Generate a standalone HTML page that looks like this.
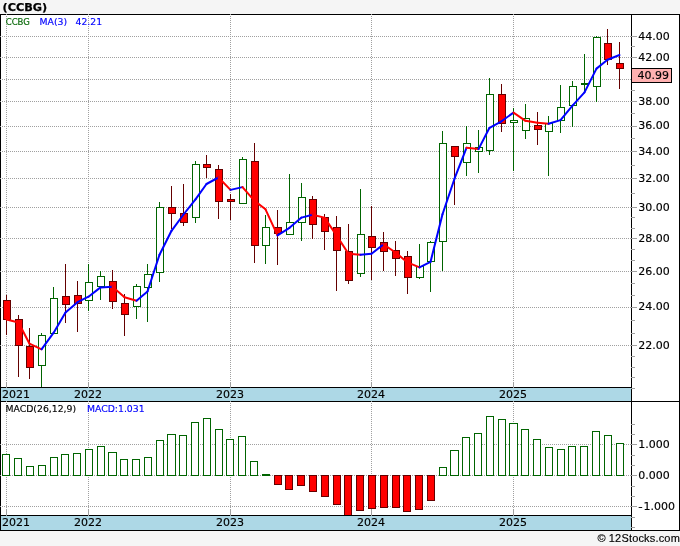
<!DOCTYPE html>
<html lang="en"><head><meta charset="utf-8"><title>(CCBG)</title>
<style>
html,body{margin:0;padding:0;background:#f5f5f5;}
body{width:680px;height:546px;overflow:hidden;}
svg{display:block;}
</style></head><body>
<svg width="680" height="546" viewBox="0 0 680 546">
<rect x="0" y="14" width="680" height="517" fill="#ffffff"/>
<rect x="1" y="388" width="630" height="13" fill="#add8e6"/>
<rect x="1" y="516" width="630" height="14" fill="#add8e6"/>
<g fill="#000000" shape-rendering="crispEdges"><rect x="0" y="14" width="680" height="1"/><rect x="0" y="14" width="1" height="517"/><rect x="679" y="14" width="1" height="517"/><rect x="631" y="14" width="1" height="517"/><rect x="0" y="387" width="632" height="1"/><rect x="0" y="401" width="680" height="1"/><rect x="0" y="515" width="632" height="1"/><rect x="0" y="530" width="680" height="1"/></g>
<g stroke="#a0a0a0" stroke-width="1" stroke-dasharray="1 1" shape-rendering="crispEdges"><line x1="0" y1="36.5" x2="631" y2="36.5"/><line x1="0" y1="57.5" x2="631" y2="57.5"/><line x1="0" y1="79.5" x2="631" y2="79.5"/><line x1="0" y1="101.5" x2="631" y2="101.5"/><line x1="0" y1="126.5" x2="631" y2="126.5"/><line x1="0" y1="151.5" x2="631" y2="151.5"/><line x1="0" y1="178.5" x2="631" y2="178.5"/><line x1="0" y1="207.5" x2="631" y2="207.5"/><line x1="0" y1="238.5" x2="631" y2="238.5"/><line x1="0" y1="271.5" x2="631" y2="271.5"/><line x1="0" y1="307.5" x2="631" y2="307.5"/><line x1="0" y1="345.5" x2="631" y2="345.5"/><line x1="6.5" y1="14" x2="6.5" y2="387"/><line x1="6.5" y1="401" x2="6.5" y2="515"/><line x1="88.5" y1="14" x2="88.5" y2="387"/><line x1="88.5" y1="401" x2="88.5" y2="515"/><line x1="230.5" y1="14" x2="230.5" y2="387"/><line x1="230.5" y1="401" x2="230.5" y2="515"/><line x1="371.5" y1="14" x2="371.5" y2="387"/><line x1="371.5" y1="401" x2="371.5" y2="515"/><line x1="513.5" y1="14" x2="513.5" y2="387"/><line x1="513.5" y1="401" x2="513.5" y2="515"/><line x1="0" y1="444.5" x2="631" y2="444.5"/><line x1="0" y1="475.5" x2="631" y2="475.5"/><line x1="0" y1="506.5" x2="631" y2="506.5"/></g>
<g shape-rendering="crispEdges"><rect x="6" y="295" width="1" height="40" fill="#640000"/><rect x="3.5" y="300.5" width="7" height="19" fill="#ff0000" stroke="#640000" stroke-width="1"/><rect x="18" y="315" width="1" height="62" fill="#640000"/><rect x="15.5" y="319.5" width="7" height="26" fill="#ff0000" stroke="#640000" stroke-width="1"/><rect x="29" y="328" width="1" height="51" fill="#640000"/><rect x="26.5" y="346.5" width="7" height="21" fill="#ff0000" stroke="#640000" stroke-width="1"/><rect x="41" y="333" width="1" height="54" fill="#006400"/><rect x="38.5" y="335.5" width="7" height="30" fill="#ffffff" stroke="#006400" stroke-width="1"/><rect x="53" y="287" width="1" height="47" fill="#006400"/><rect x="50.5" y="298.5" width="7" height="35" fill="#ffffff" stroke="#006400" stroke-width="1"/><rect x="65" y="264" width="1" height="59" fill="#640000"/><rect x="62.5" y="296.5" width="7" height="8" fill="#ff0000" stroke="#640000" stroke-width="1"/><rect x="77" y="281" width="1" height="51" fill="#640000"/><rect x="74.5" y="295.5" width="7" height="8" fill="#ff0000" stroke="#640000" stroke-width="1"/><rect x="88" y="264" width="1" height="47" fill="#006400"/><rect x="85.5" y="282.5" width="7" height="18" fill="#ffffff" stroke="#006400" stroke-width="1"/><rect x="100" y="271" width="1" height="29" fill="#006400"/><rect x="97.5" y="276.5" width="7" height="10" fill="#ffffff" stroke="#006400" stroke-width="1"/><rect x="112" y="270" width="1" height="39" fill="#640000"/><rect x="109.5" y="281.5" width="7" height="20" fill="#ff0000" stroke="#640000" stroke-width="1"/><rect x="124" y="294" width="1" height="42" fill="#640000"/><rect x="121.5" y="303.5" width="7" height="11" fill="#ff0000" stroke="#640000" stroke-width="1"/><rect x="136" y="284" width="1" height="35" fill="#006400"/><rect x="133.5" y="286.5" width="7" height="20" fill="#ffffff" stroke="#006400" stroke-width="1"/><rect x="147" y="264" width="1" height="58" fill="#006400"/><rect x="144.5" y="274.5" width="7" height="13" fill="#ffffff" stroke="#006400" stroke-width="1"/><rect x="159" y="202" width="1" height="80" fill="#006400"/><rect x="156.5" y="207.5" width="7" height="65" fill="#ffffff" stroke="#006400" stroke-width="1"/><rect x="171" y="186" width="1" height="43" fill="#640000"/><rect x="168.5" y="207.5" width="7" height="6" fill="#ff0000" stroke="#640000" stroke-width="1"/><rect x="183" y="184" width="1" height="42" fill="#640000"/><rect x="180.5" y="213.5" width="7" height="9" fill="#ff0000" stroke="#640000" stroke-width="1"/><rect x="195" y="161" width="1" height="62" fill="#006400"/><rect x="192.5" y="164.5" width="7" height="53" fill="#ffffff" stroke="#006400" stroke-width="1"/><rect x="206" y="155" width="1" height="23" fill="#640000"/><rect x="203.5" y="164.5" width="7" height="3" fill="#ff0000" stroke="#640000" stroke-width="1"/><rect x="218" y="165" width="1" height="54" fill="#640000"/><rect x="215.5" y="169.5" width="7" height="32" fill="#ff0000" stroke="#640000" stroke-width="1"/><rect x="230" y="194" width="1" height="26" fill="#640000"/><rect x="227.5" y="199.5" width="7" height="2" fill="#ff0000" stroke="#640000" stroke-width="1"/><rect x="242" y="157" width="1" height="47" fill="#006400"/><rect x="239.5" y="159.5" width="7" height="44" fill="#ffffff" stroke="#006400" stroke-width="1"/><rect x="254" y="143" width="1" height="120" fill="#640000"/><rect x="251.5" y="161.5" width="7" height="84" fill="#ff0000" stroke="#640000" stroke-width="1"/><rect x="265" y="215" width="1" height="49" fill="#006400"/><rect x="262.5" y="227.5" width="7" height="18" fill="#ffffff" stroke="#006400" stroke-width="1"/><rect x="277" y="210" width="1" height="55" fill="#640000"/><rect x="274.5" y="227.5" width="7" height="6" fill="#ff0000" stroke="#640000" stroke-width="1"/><rect x="289" y="174" width="1" height="61" fill="#006400"/><rect x="286.5" y="222.5" width="7" height="12" fill="#ffffff" stroke="#006400" stroke-width="1"/><rect x="301" y="183" width="1" height="58" fill="#006400"/><rect x="298.5" y="197.5" width="7" height="25" fill="#ffffff" stroke="#006400" stroke-width="1"/><rect x="312" y="196" width="1" height="43" fill="#640000"/><rect x="309.5" y="199.5" width="7" height="25" fill="#ff0000" stroke="#640000" stroke-width="1"/><rect x="324" y="214" width="1" height="36" fill="#640000"/><rect x="321.5" y="217.5" width="7" height="14" fill="#ff0000" stroke="#640000" stroke-width="1"/><rect x="336" y="216" width="1" height="75" fill="#640000"/><rect x="333.5" y="227.5" width="7" height="23" fill="#ff0000" stroke="#640000" stroke-width="1"/><rect x="348" y="224" width="1" height="60" fill="#640000"/><rect x="345.5" y="251.5" width="7" height="29" fill="#ff0000" stroke="#640000" stroke-width="1"/><rect x="360" y="189" width="1" height="88" fill="#006400"/><rect x="357.5" y="234.5" width="7" height="39" fill="#ffffff" stroke="#006400" stroke-width="1"/><rect x="371" y="206" width="1" height="74" fill="#640000"/><rect x="368.5" y="236.5" width="7" height="11" fill="#ff0000" stroke="#640000" stroke-width="1"/><rect x="383" y="232" width="1" height="39" fill="#640000"/><rect x="380.5" y="242.5" width="7" height="9" fill="#ff0000" stroke="#640000" stroke-width="1"/><rect x="395" y="241" width="1" height="35" fill="#640000"/><rect x="392.5" y="250.5" width="7" height="8" fill="#ff0000" stroke="#640000" stroke-width="1"/><rect x="407" y="251" width="1" height="43" fill="#640000"/><rect x="404.5" y="256.5" width="7" height="21" fill="#ff0000" stroke="#640000" stroke-width="1"/><rect x="419" y="244" width="1" height="35" fill="#006400"/><rect x="416.5" y="266.5" width="7" height="11" fill="#ffffff" stroke="#006400" stroke-width="1"/><rect x="430" y="241" width="1" height="51" fill="#006400"/><rect x="427.5" y="242.5" width="7" height="19" fill="#ffffff" stroke="#006400" stroke-width="1"/><rect x="442" y="131" width="1" height="140" fill="#006400"/><rect x="439.5" y="143.5" width="7" height="98" fill="#ffffff" stroke="#006400" stroke-width="1"/><rect x="454" y="146" width="1" height="59" fill="#640000"/><rect x="451.5" y="146.5" width="7" height="10" fill="#ff0000" stroke="#640000" stroke-width="1"/><rect x="466" y="126" width="1" height="50" fill="#006400"/><rect x="463.5" y="143.5" width="7" height="19" fill="#ffffff" stroke="#006400" stroke-width="1"/><rect x="478" y="130" width="1" height="43" fill="#006400"/><rect x="475.5" y="147.5" width="7" height="4" fill="#ffffff" stroke="#006400" stroke-width="1"/><rect x="489" y="78" width="1" height="77" fill="#006400"/><rect x="486.5" y="94.5" width="7" height="56" fill="#ffffff" stroke="#006400" stroke-width="1"/><rect x="501" y="84" width="1" height="48" fill="#640000"/><rect x="498.5" y="94.5" width="7" height="29" fill="#ff0000" stroke="#640000" stroke-width="1"/><rect x="513" y="108" width="1" height="63" fill="#006400"/><rect x="510.5" y="120.5" width="7" height="2" fill="#ffffff" stroke="#006400" stroke-width="1"/><rect x="525" y="104" width="1" height="35" fill="#006400"/><rect x="522.5" y="118.5" width="7" height="12" fill="#ffffff" stroke="#006400" stroke-width="1"/><rect x="537" y="112" width="1" height="33" fill="#640000"/><rect x="534.5" y="125.5" width="7" height="4" fill="#ff0000" stroke="#640000" stroke-width="1"/><rect x="548" y="116" width="1" height="60" fill="#006400"/><rect x="545.5" y="123.5" width="7" height="8" fill="#ffffff" stroke="#006400" stroke-width="1"/><rect x="560" y="85" width="1" height="48" fill="#006400"/><rect x="557.5" y="107.5" width="7" height="13" fill="#ffffff" stroke="#006400" stroke-width="1"/><rect x="572" y="81" width="1" height="46" fill="#006400"/><rect x="569.5" y="86.5" width="7" height="19" fill="#ffffff" stroke="#006400" stroke-width="1"/><rect x="584" y="54" width="1" height="38" fill="#006400"/><rect x="581.5" y="83.5" width="7" height="1" fill="#ffffff" stroke="#006400" stroke-width="1"/><rect x="596" y="36" width="1" height="66" fill="#006400"/><rect x="593.5" y="37.5" width="7" height="49" fill="#ffffff" stroke="#006400" stroke-width="1"/><rect x="607" y="29" width="1" height="36" fill="#640000"/><rect x="604.5" y="43.5" width="7" height="16" fill="#ff0000" stroke="#640000" stroke-width="1"/><rect x="619" y="42" width="1" height="47" fill="#640000"/><rect x="616.5" y="63.5" width="7" height="5" fill="#ff0000" stroke="#640000" stroke-width="1"/></g>
<g stroke-width="2" stroke-linecap="round" fill="none"><line x1="6.5" y1="319.5" x2="18.5" y2="322.5" stroke="#ff0000"/><line x1="18.5" y1="322.5" x2="29.5" y2="343.7" stroke="#ff0000"/><line x1="29.5" y1="343.7" x2="41.5" y2="349.3" stroke="#ff0000"/><line x1="41.5" y1="349.3" x2="53.5" y2="332.9" stroke="#0000ff"/><line x1="53.5" y1="332.9" x2="65.5" y2="312.5" stroke="#0000ff"/><line x1="65.5" y1="312.5" x2="77.5" y2="302.2" stroke="#0000ff"/><line x1="77.5" y1="302.2" x2="88.5" y2="296.7" stroke="#0000ff"/><line x1="88.5" y1="296.7" x2="100.5" y2="287.4" stroke="#0000ff"/><line x1="100.5" y1="287.4" x2="112.5" y2="286.7" stroke="#0000ff"/><line x1="112.5" y1="286.7" x2="124.5" y2="297.2" stroke="#ff0000"/><line x1="124.5" y1="297.2" x2="136.5" y2="300.7" stroke="#ff0000"/><line x1="136.5" y1="300.7" x2="147.5" y2="291.5" stroke="#0000ff"/><line x1="147.5" y1="291.5" x2="159.5" y2="254.8" stroke="#0000ff"/><line x1="159.5" y1="254.8" x2="171.5" y2="230.8" stroke="#0000ff"/><line x1="171.5" y1="230.8" x2="183.5" y2="214.5" stroke="#0000ff"/><line x1="183.5" y1="214.5" x2="195.5" y2="199.4" stroke="#0000ff"/><line x1="195.5" y1="199.4" x2="206.5" y2="184.0" stroke="#0000ff"/><line x1="206.5" y1="184.0" x2="218.5" y2="177.5" stroke="#0000ff"/><line x1="218.5" y1="177.5" x2="230.5" y2="189.9" stroke="#ff0000"/><line x1="230.5" y1="189.9" x2="242.5" y2="187.1" stroke="#0000ff"/><line x1="242.5" y1="187.1" x2="254.5" y2="200.8" stroke="#ff0000"/><line x1="254.5" y1="200.8" x2="265.5" y2="209.3" stroke="#ff0000"/><line x1="265.5" y1="209.3" x2="277.5" y2="235.4" stroke="#ff0000"/><line x1="277.5" y1="235.4" x2="289.5" y2="227.8" stroke="#0000ff"/><line x1="289.5" y1="227.8" x2="301.5" y2="217.6" stroke="#0000ff"/><line x1="301.5" y1="217.6" x2="312.5" y2="214.7" stroke="#0000ff"/><line x1="312.5" y1="214.7" x2="324.5" y2="217.6" stroke="#ff0000"/><line x1="324.5" y1="217.6" x2="336.5" y2="235.4" stroke="#ff0000"/><line x1="336.5" y1="235.4" x2="348.5" y2="253.7" stroke="#ff0000"/><line x1="348.5" y1="253.7" x2="360.5" y2="254.8" stroke="#ff0000"/><line x1="360.5" y1="254.8" x2="371.5" y2="253.7" stroke="#0000ff"/><line x1="371.5" y1="253.7" x2="383.5" y2="244.4" stroke="#0000ff"/><line x1="383.5" y1="244.4" x2="395.5" y2="252.5" stroke="#ff0000"/><line x1="395.5" y1="252.5" x2="407.5" y2="262.4" stroke="#ff0000"/><line x1="407.5" y1="262.4" x2="419.5" y2="267.4" stroke="#ff0000"/><line x1="419.5" y1="267.4" x2="430.5" y2="261.9" stroke="#0000ff"/><line x1="430.5" y1="261.9" x2="442.5" y2="214.3" stroke="#0000ff"/><line x1="442.5" y1="214.3" x2="454.5" y2="178.7" stroke="#0000ff"/><line x1="454.5" y1="178.7" x2="466.5" y2="147.8" stroke="#0000ff"/><line x1="466.5" y1="147.8" x2="478.5" y2="149.1" stroke="#ff0000"/><line x1="478.5" y1="149.1" x2="489.5" y2="127.8" stroke="#0000ff"/><line x1="489.5" y1="127.8" x2="501.5" y2="121.3" stroke="#0000ff"/><line x1="501.5" y1="121.3" x2="513.5" y2="112.6" stroke="#0000ff"/><line x1="513.5" y1="112.6" x2="525.5" y2="120.8" stroke="#ff0000"/><line x1="525.5" y1="120.8" x2="537.5" y2="122.8" stroke="#ff0000"/><line x1="537.5" y1="122.8" x2="548.5" y2="123.8" stroke="#ff0000"/><line x1="548.5" y1="123.8" x2="560.5" y2="120.1" stroke="#0000ff"/><line x1="560.5" y1="120.1" x2="572.5" y2="105.6" stroke="#0000ff"/><line x1="572.5" y1="105.6" x2="584.5" y2="92.4" stroke="#0000ff"/><line x1="584.5" y1="92.4" x2="596.5" y2="68.6" stroke="#0000ff"/><line x1="596.5" y1="68.6" x2="607.5" y2="59.8" stroke="#0000ff"/><line x1="607.5" y1="59.8" x2="619.5" y2="55.0" stroke="#0000ff"/></g>
<g shape-rendering="crispEdges"><rect x="2.5" y="454.5" width="7" height="21" fill="#ffffff" stroke="#006400"/><rect x="14.5" y="458.5" width="7" height="17" fill="#ffffff" stroke="#006400"/><rect x="26.5" y="466.5" width="7" height="9" fill="#ffffff" stroke="#006400"/><rect x="38.5" y="465.5" width="7" height="10" fill="#ffffff" stroke="#006400"/><rect x="50.5" y="457.5" width="7" height="18" fill="#ffffff" stroke="#006400"/><rect x="61.5" y="454.5" width="7" height="21" fill="#ffffff" stroke="#006400"/><rect x="73.5" y="453.5" width="7" height="22" fill="#ffffff" stroke="#006400"/><rect x="85.5" y="449.5" width="7" height="26" fill="#ffffff" stroke="#006400"/><rect x="97.5" y="446.5" width="7" height="29" fill="#ffffff" stroke="#006400"/><rect x="108.5" y="452.5" width="8" height="23" fill="#ffffff" stroke="#006400"/><rect x="120.5" y="459.5" width="7" height="16" fill="#ffffff" stroke="#006400"/><rect x="132.5" y="459.5" width="7" height="16" fill="#ffffff" stroke="#006400"/><rect x="144.5" y="457.5" width="7" height="18" fill="#ffffff" stroke="#006400"/><rect x="156.5" y="440.5" width="7" height="35" fill="#ffffff" stroke="#006400"/><rect x="167.5" y="434.5" width="8" height="41" fill="#ffffff" stroke="#006400"/><rect x="179.5" y="435.5" width="7" height="40" fill="#ffffff" stroke="#006400"/><rect x="191.5" y="422.5" width="7" height="53" fill="#ffffff" stroke="#006400"/><rect x="203.5" y="418.5" width="7" height="57" fill="#ffffff" stroke="#006400"/><rect x="215.5" y="429.5" width="7" height="46" fill="#ffffff" stroke="#006400"/><rect x="226.5" y="439.5" width="7" height="36" fill="#ffffff" stroke="#006400"/><rect x="238.5" y="436.5" width="7" height="39" fill="#ffffff" stroke="#006400"/><rect x="250.5" y="461.5" width="7" height="14" fill="#ffffff" stroke="#006400"/><rect x="262" y="474" width="8" height="2" fill="#006400"/><rect x="274.5" y="475.5" width="7" height="9" fill="#ff0000" stroke="#640000"/><rect x="285.5" y="475.5" width="7" height="14" fill="#ff0000" stroke="#640000"/><rect x="297.5" y="475.5" width="7" height="10" fill="#ff0000" stroke="#640000"/><rect x="309.5" y="475.5" width="7" height="16" fill="#ff0000" stroke="#640000"/><rect x="321.5" y="475.5" width="7" height="21" fill="#ff0000" stroke="#640000"/><rect x="333.5" y="475.5" width="7" height="29" fill="#ff0000" stroke="#640000"/><rect x="344.5" y="475.5" width="7" height="40" fill="#ff0000" stroke="#640000"/><rect x="356.5" y="475.5" width="7" height="35" fill="#ff0000" stroke="#640000"/><rect x="368.5" y="475.5" width="7" height="33" fill="#ff0000" stroke="#640000"/><rect x="380.5" y="475.5" width="7" height="32" fill="#ff0000" stroke="#640000"/><rect x="392.5" y="475.5" width="7" height="32" fill="#ff0000" stroke="#640000"/><rect x="403.5" y="475.5" width="7" height="36" fill="#ff0000" stroke="#640000"/><rect x="415.5" y="475.5" width="7" height="34" fill="#ff0000" stroke="#640000"/><rect x="427.5" y="475.5" width="7" height="25" fill="#ff0000" stroke="#640000"/><rect x="439.5" y="467.5" width="7" height="8" fill="#ffffff" stroke="#006400"/><rect x="450.5" y="450.5" width="8" height="25" fill="#ffffff" stroke="#006400"/><rect x="462.5" y="437.5" width="7" height="38" fill="#ffffff" stroke="#006400"/><rect x="474.5" y="433.5" width="7" height="42" fill="#ffffff" stroke="#006400"/><rect x="486.5" y="416.5" width="7" height="59" fill="#ffffff" stroke="#006400"/><rect x="498.5" y="419.5" width="7" height="56" fill="#ffffff" stroke="#006400"/><rect x="509.5" y="423.5" width="8" height="52" fill="#ffffff" stroke="#006400"/><rect x="521.5" y="429.5" width="7" height="46" fill="#ffffff" stroke="#006400"/><rect x="533.5" y="439.5" width="7" height="36" fill="#ffffff" stroke="#006400"/><rect x="545.5" y="447.5" width="7" height="28" fill="#ffffff" stroke="#006400"/><rect x="557.5" y="449.5" width="7" height="26" fill="#ffffff" stroke="#006400"/><rect x="568.5" y="446.5" width="7" height="29" fill="#ffffff" stroke="#006400"/><rect x="580.5" y="446.5" width="7" height="29" fill="#ffffff" stroke="#006400"/><rect x="592.5" y="431.5" width="7" height="44" fill="#ffffff" stroke="#006400"/><rect x="604.5" y="435.5" width="7" height="40" fill="#ffffff" stroke="#006400"/><rect x="616.5" y="443.5" width="7" height="32" fill="#ffffff" stroke="#006400"/></g>
<rect x="0" y="515" width="632" height="1" fill="#000000" shape-rendering="crispEdges"/>
<g fill="#a0a0a0" shape-rendering="crispEdges"><rect x="6" y="382" width="1" height="6"/><rect x="6" y="509" width="1" height="7"/><rect x="88" y="382" width="1" height="6"/><rect x="88" y="509" width="1" height="7"/><rect x="230" y="382" width="1" height="6"/><rect x="230" y="509" width="1" height="7"/><rect x="371" y="382" width="1" height="6"/><rect x="371" y="509" width="1" height="7"/><rect x="513" y="382" width="1" height="6"/><rect x="513" y="509" width="1" height="7"/></g>
<g fill="#a0a0a0" shape-rendering="crispEdges"><rect x="631" y="36" width="6" height="1"/><rect x="631" y="57" width="6" height="1"/><rect x="631" y="79" width="6" height="1"/><rect x="631" y="101" width="6" height="1"/><rect x="631" y="126" width="6" height="1"/><rect x="631" y="151" width="6" height="1"/><rect x="631" y="178" width="6" height="1"/><rect x="631" y="207" width="6" height="1"/><rect x="631" y="238" width="6" height="1"/><rect x="631" y="271" width="6" height="1"/><rect x="631" y="307" width="6" height="1"/><rect x="631" y="345" width="6" height="1"/><rect x="631" y="46" width="4" height="1"/><rect x="631" y="90" width="4" height="1"/><rect x="631" y="113" width="4" height="1"/><rect x="631" y="138" width="4" height="1"/><rect x="631" y="165" width="4" height="1"/><rect x="631" y="193" width="4" height="1"/><rect x="631" y="217" width="4" height="1"/><rect x="631" y="228" width="4" height="1"/><rect x="631" y="249" width="4" height="1"/><rect x="631" y="260" width="4" height="1"/><rect x="631" y="283" width="4" height="1"/><rect x="631" y="295" width="4" height="1"/><rect x="631" y="320" width="4" height="1"/><rect x="631" y="333" width="4" height="1"/><rect x="631" y="356" width="4" height="1"/><rect x="631" y="367" width="4" height="1"/><rect x="631" y="377" width="4" height="1"/><rect x="631" y="388" width="4" height="1"/><rect x="631" y="444" width="6" height="1"/><rect x="631" y="475" width="6" height="1"/><rect x="631" y="506" width="6" height="1"/><rect x="631" y="424" width="4" height="1"/><rect x="631" y="434" width="4" height="1"/><rect x="631" y="455" width="4" height="1"/><rect x="631" y="465" width="4" height="1"/><rect x="631" y="486" width="4" height="1"/><rect x="631" y="496" width="4" height="1"/><rect x="631" y="517" width="4" height="1"/><rect x="631" y="527" width="4" height="1"/></g>
<g font-family='"DejaVu Sans","Liberation Sans",sans-serif' font-size="11" fill="#000000" stroke="#000000" stroke-width="0.15"><text x="638.3" y="40">44.00</text><text x="638.3" y="61">42.00</text><text x="638.3" y="105">38.00</text><text x="638.3" y="129">36.00</text><text x="638.3" y="155">34.00</text><text x="638.3" y="182">32.00</text><text x="638.3" y="211">30.00</text><text x="638.3" y="242">28.00</text><text x="638.3" y="275">26.00</text><text x="638.3" y="310">24.00</text><text x="638.3" y="349">22.00</text><text x="638.3" y="448">1.000</text><text x="638.3" y="479">0.000</text><text x="638.3" y="510" textLength="4.4" lengthAdjust="spacingAndGlyphs">-</text><text x="643.4" y="510">1.000</text><text x="88" y="398" text-anchor="middle">2022</text><text x="88" y="526" text-anchor="middle">2022</text><text x="230" y="398" text-anchor="middle">2023</text><text x="230" y="526" text-anchor="middle">2023</text><text x="371" y="398" text-anchor="middle">2024</text><text x="371" y="526" text-anchor="middle">2024</text><text x="513" y="398" text-anchor="middle">2025</text><text x="513" y="526" text-anchor="middle">2025</text><text x="2" y="398">2021</text><text x="2" y="526">2021</text></g>
<rect x="631.5" y="68.5" width="40" height="14" fill="#ffb0b0" stroke="#000000" stroke-width="1" shape-rendering="crispEdges"/>
<text x="637.4" y="79" font-family='"DejaVu Sans","Liberation Sans",sans-serif' font-size="11" fill="#000000" stroke="#000000" stroke-width="0.15">40.99</text>
<g font-family='"DejaVu Sans","Liberation Sans",sans-serif' font-size="9.3" stroke-width="0.15"><text x="5.7" y="25" fill="#006400" stroke="#006400" textLength="24.2" lengthAdjust="spacingAndGlyphs">CCBG</text><text x="39.5" y="25" fill="#0000ff" stroke="#0000ff">MA(3)</text><text x="75.5" y="25" fill="#0000ff" stroke="#0000ff">42.21</text><text x="5.5" y="412" fill="#000000" stroke="#000000">MACD(26,12,9)</text><text x="87" y="412" fill="#0000ff" stroke="#0000ff">MACD:1.031</text></g>
<text x="2.5" y="11" font-family='"DejaVu Sans","Liberation Sans",sans-serif' font-size="11.25" font-weight="bold" fill="#000000" stroke="#000000" stroke-width="0.25">(CCBG)</text>
<g font-family='"Liberation Sans",sans-serif' font-size="11" fill="#000000" stroke="#000000" stroke-width="0.15"><text x="597.5" y="542">©</text><text x="608.8" y="542" textLength="71.0" lengthAdjust="spacing">12Stocks.com</text></g>
</svg>
</body></html>
